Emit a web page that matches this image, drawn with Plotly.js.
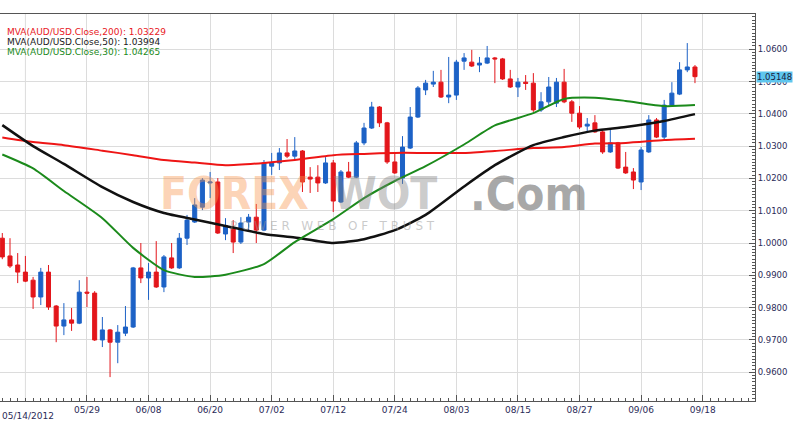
<!DOCTYPE html>
<html>
<head>
<meta charset="utf-8">
<script src="https://cdn.plot.ly/plotly-3.0.1.min.js"></script>
<style>html,body{margin:0;padding:0;background:#fff;}#chart{width:800px;height:425px;}</style>
</head>
<body>
<div id="chart"></div>
<script>
// ---- data (AUD/USD daily candles, trading-day index) ----
const openP = [1.0015,0.9960,0.9932,0.9910,0.9885,0.9833,0.9910,0.9805,0.9743,0.9762,
  0.9752,0.9848,0.9845,0.9700,0.9731,0.9693,0.9721,0.9740,0.9923,0.9892,
  0.9910,0.9864,0.9954,0.9923,1.0015,1.0065,1.0111,1.0186,1.0189,1.0028,
  1.0046,1.0003,1.0065,1.0080,1.0040,1.0238,1.0248,1.0279,1.0269,1.0285,
  1.0204,1.0204,1.0186,1.0248,1.0127,1.0220,1.0204,1.0310,1.0356,1.0421,
  1.0372,1.0251,1.0201,1.0294,1.0390,1.0474,1.0492,1.0498,1.0452,1.0458,
  1.0563,1.0560,1.0551,1.0557,1.0573,1.0570,1.0508,1.0483,1.0498,1.0495,
  1.0412,1.0437,1.0433,1.0498,1.0437,1.0402,1.0362,1.0372,1.0344,1.0282,
  1.0310,1.0235,1.0220,1.0189,1.0282,1.0381,1.0328,1.0427,1.0461,1.0536,1.0545];
const highP = [1.0031,1.0015,0.9969,0.9960,0.9895,0.9923,0.9932,0.9808,0.9814,0.9799,
  0.9885,0.9895,0.9851,0.9771,0.9734,0.9746,0.9805,0.9926,1.0000,0.9938,
  1.0006,0.9963,1.0000,1.0031,1.0087,1.0139,1.0201,1.0220,1.0201,1.0077,
  1.0071,1.0080,1.0090,1.0121,1.0257,1.0279,1.0294,1.0322,1.0328,1.0288,
  1.0235,1.0241,1.0266,1.0257,1.0226,1.0251,1.0316,1.0372,1.0437,1.0424,
  1.0375,1.0282,1.0331,1.0421,1.0486,1.0505,1.0533,1.0536,1.0576,1.0567,
  1.0588,1.0598,1.0576,1.0610,1.0576,1.0573,1.0536,1.0511,1.0520,1.0526,
  1.0467,1.0514,1.0511,1.0539,1.0443,1.0424,1.0387,1.0396,1.0350,1.0350,
  1.0313,1.0282,1.0232,1.0297,1.0396,1.0387,1.0443,1.0498,1.0560,1.0619,1.0551];
const lowP = [0.9950,0.9923,0.9876,0.9879,0.9796,0.9808,0.9793,0.9693,0.9715,0.9728,
  0.9749,0.9802,0.9697,0.9678,0.9585,0.9628,0.9712,0.9737,0.9876,0.9824,
  0.9861,0.9848,0.9920,0.9920,0.9994,1.0062,1.0102,1.0139,1.0028,1.0009,
  0.9969,0.9997,1.0040,1.0000,1.0037,1.0211,1.0226,1.0263,1.0257,1.0158,
  1.0155,1.0158,1.0183,1.0096,1.0124,1.0201,1.0201,1.0303,1.0353,1.0359,
  1.0245,1.0214,1.0183,1.0291,1.0387,1.0458,1.0483,1.0449,1.0433,1.0443,
  1.0536,1.0545,1.0529,1.0554,1.0495,1.0505,1.0480,1.0452,1.0474,1.0406,
  1.0406,1.0427,1.0421,1.0433,1.0375,1.0353,1.0344,1.0341,1.0276,1.0279,
  1.0229,1.0214,1.0167,1.0164,1.0279,1.0325,1.0322,1.0424,1.0458,1.0529,1.0495];
const closeP = [0.9957,0.9929,0.9910,0.9882,0.9833,0.9910,0.9802,0.9743,0.9762,0.9752,
  0.9848,0.9845,0.9700,0.9731,0.9693,0.9724,0.9740,0.9923,0.9892,0.9910,
  0.9864,0.9957,0.9923,1.0015,1.0071,1.0118,1.0195,1.0189,1.0031,1.0053,
  1.0003,1.0062,1.0080,1.0040,1.0248,1.0248,1.0279,1.0269,1.0285,1.0189,
  1.0198,1.0186,1.0248,1.0130,1.0220,1.0204,1.0310,1.0356,1.0421,1.0372,
  1.0251,1.0217,1.0297,1.0390,1.0480,1.0495,1.0498,1.0452,1.0458,1.0560,
  1.0573,1.0548,1.0557,1.0573,1.0570,1.0508,1.0483,1.0498,1.0494,1.0412,
  1.0437,1.0483,1.0498,1.0437,1.0402,1.0359,1.0368,1.0344,1.0282,1.0310,
  1.0232,1.0217,1.0195,1.0288,1.0381,1.0328,1.0427,1.0464,1.0536,1.0545,1.0515];

// moving averages at these trading-day indices
const maIdx = [0,4,8,13,17,21,25,29,34,38,43,47,51,55,60,64,69,73,77,81,86,90];
const ma200 = [1.0327,1.0313,1.0303,1.0286,1.0272,1.0257,1.0249,1.0241,1.0248,1.0257,1.0272,
  1.0276,1.0279,1.0279,1.0279,1.0285,1.0294,1.0297,1.0308,1.0310,1.0319,1.0323];
const ma50 = [1.0365,1.0300,1.0245,1.0173,1.0127,1.0093,1.0073,1.0053,1.0028,1.0017,1.0000,
  1.0012,1.0040,1.0087,1.0175,1.0241,1.0303,1.0328,1.0348,1.0359,1.0378,1.0399];
const ma30 = [1.0274,1.0231,1.0161,1.0077,0.9985,0.9916,0.9895,0.9902,0.9935,1.0003,1.0074,
  1.0139,1.0192,1.0238,1.0305,1.0364,1.0402,1.0446,1.0450,1.0440,1.0424,1.0427];

const tickIdx = [3,11,19,27,35,43,51,59,67,75,83,91];
const tickLabels = ["05/14/2012","05/29","06/08","06/20","07/02","07/12","07/24","08/03","08/15","08/27","09/06","09/18"];
const priceTicks = [0.96,0.97,0.98,0.99,1.00,1.01,1.02,1.03,1.04,1.05,1.06];
const priceLabels = ["0.9600","0.9700","0.9800","0.9900","1.0000","1.0100","1.0200","1.0300","1.0400","1.0500","1.0600"];
const legendLabels = ["MVA(AUD/USD.Close,200): 1.03229","MVA(AUD/USD.Close,50): 1.03994","MVA(AUD/USD.Close,30): 1.04265"];
const lastPrice = 1.05148;

const dayIdx = openP.map((_, i) => i);

const RED = '#e3161b', BLUE = '#1d62c6', GREEN = '#1b8a1b';

const traces = [
  {type:'candlestick', x:dayIdx, open:openP, high:highP, low:lowP, close:closeP,
   increasing:{line:{color:BLUE,width:1}, fillcolor:BLUE},
   decreasing:{line:{color:RED,width:1}, fillcolor:RED},
   whiskerwidth:0, hoverinfo:'skip', showlegend:false},
  {type:'scatter', mode:'lines', x:maIdx, y:ma200, line:{color:'#ee1515', width:2, shape:'spline', smoothing:0.6}, hoverinfo:'skip', showlegend:false},
  {type:'scatter', mode:'lines', x:maIdx, y:ma50, line:{color:'#111111', width:2.5, shape:'spline', smoothing:0.6}, hoverinfo:'skip', showlegend:false},
  {type:'scatter', mode:'lines', x:maIdx, y:ma30, line:{color:GREEN, width:2, shape:'spline', smoothing:0.6}, hoverinfo:'skip', showlegend:false}
];

const axisFont = {family:'DejaVu Sans, Verdana, sans-serif', size:9, color:'#2b2b58'};
const wmFont = 'DejaVu Sans Condensed, Liberation Sans Narrow, DejaVu Sans, sans-serif';

const annotations = [
  {xref:'paper', yref:'paper', x:0, y:1, xanchor:'left', yanchor:'middle', xshift:5, yshift:-18, showarrow:false,
   text:legendLabels[0], font:{family:'DejaVu Sans, Verdana, sans-serif', size:9, color:'#e8181d'}},
  {xref:'paper', yref:'paper', x:0, y:1, xanchor:'left', yanchor:'middle', xshift:5, yshift:-28, showarrow:false,
   text:legendLabels[1], font:{family:'DejaVu Sans, Verdana, sans-serif', size:9, color:'#1a1a1a'}},
  {xref:'paper', yref:'paper', x:0, y:1, xanchor:'left', yanchor:'middle', xshift:5, yshift:-38, showarrow:false,
   text:legendLabels[2], font:{family:'DejaVu Sans, Verdana, sans-serif', size:9, color:GREEN}},
  // current price tag
  {xref:'paper', yref:'y', x:1, y:lastPrice, xanchor:'left', yanchor:'middle', xshift:1, showarrow:false,
   text:lastPrice.toFixed(5), bgcolor:'#5ec6ee', borderpad:0,
   font:{family:'DejaVu Sans, Verdana, sans-serif', size:8.5, color:'#1a1a40'}},
  // first date label (left aligned at chart edge)
  {xref:'paper', yref:'paper', x:0, y:0, xanchor:'left', yanchor:'top', yshift:-8, showarrow:false,
   text:tickLabels[0], font:axisFont},
  // watermark
  {xref:'paper', yref:'paper', x:0.31, y:0.535, xanchor:'center', yanchor:'middle', showarrow:false,
   text:'<b>FOREX</b>', font:{family:wmFont, size:44, color:'rgba(248,150,80,0.42)'}},
  {xref:'paper', yref:'paper', x:0.51, y:0.535, xanchor:'center', yanchor:'middle', showarrow:false,
   text:'<b>WOT</b>', font:{family:wmFont, size:44, color:'rgba(130,130,130,0.42)'}},
  {xref:'paper', yref:'paper', x:0.70, y:0.535, xanchor:'center', yanchor:'middle', showarrow:false,
   text:'<b>.Com</b>', font:{family:wmFont, size:46, color:'rgba(110,110,110,0.6)'}},
  {xref:'paper', yref:'paper', x:0.44, y:0.452, xanchor:'center', yanchor:'middle', showarrow:false,
   text:'P O W E R   W E B   O F   T R U S T', font:{family:'DejaVu Sans, sans-serif', size:12, color:'rgba(150,150,150,0.5)'}}
];

const layout = {
  width:800, height:425,
  margin:{l:0, r:45, t:14, b:24, pad:0},
  paper_bgcolor:'#ffffff', plot_bgcolor:'#ffffff',
  showlegend:false,
  xaxis:{type:'linear', range:[-0.3, 97.8], tickmode:'array', tickvals:tickIdx.slice(1), ticktext:tickLabels.slice(1),
    showgrid:true, gridcolor:'#dcdcdc', gridwidth:1, zeroline:false,
    showline:true, linecolor:'#555', linewidth:1, mirror:true,
    ticks:'inside', ticklen:6, tickcolor:'#555', tickfont:axisFont,
    minor:{dtick:1, tick0:0, ticks:'inside', ticklen:3, tickcolor:'#555', showgrid:false},
    rangeslider:{visible:false}, fixedrange:true},
  yaxis:{side:'right', range:[0.9511, 1.0709], tickmode:'array', tickvals:priceTicks, ticktext:priceLabels,
    showgrid:true, gridcolor:'#dcdcdc', gridwidth:1, zeroline:false,
    showline:true, linecolor:'#555', linewidth:1, mirror:true,
    ticks:'inside', ticklen:6, tickcolor:'#555', tickfont:{family:'DejaVu Sans, Verdana, sans-serif', size:8.5, color:'#2b2b58'},
    minor:{dtick:0.001, tick0:0.96, ticks:'inside', ticklen:3, tickcolor:'#555', showgrid:false},
    fixedrange:true},
  annotations:annotations,
  boxgap:0.25
};

// gridline for the first date tick
layout.shapes = [{type:'line', xref:'x', yref:'paper', x0:tickIdx[0], x1:tickIdx[0], y0:0, y1:1, line:{color:'#dcdcdc', width:1}, layer:'below'}];

Plotly.newPlot('chart', traces, layout, {displayModeBar:false, staticPlot:true});
</script>
</body>
</html>
